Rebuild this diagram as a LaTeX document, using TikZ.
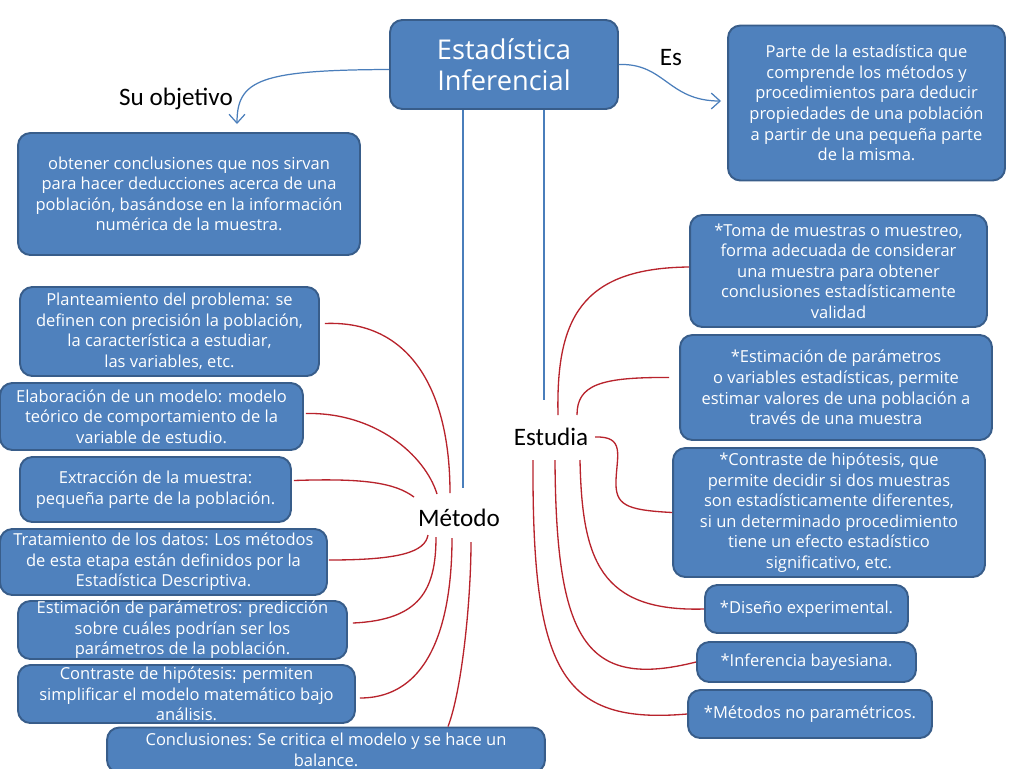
\documentclass[tikz,border=0pt]{standalone}
\usepackage{fontspec}
\setmainfont{Carlito}
\newfontfamily\boxfont{Open Sans}
\usepackage{tikz}
\usetikzlibrary{arrows.meta,calc}
\definecolor{eiFill}{HTML}{4F81BD}
\definecolor{eiEdge}{HTML}{385D8A}
\definecolor{eiLine}{HTML}{4A7EBB}
\definecolor{eiRed}{HTML}{B8232C}
\tikzset{
  % Blue concept box
  ibox/.style={rectangle,rounded corners=7pt,
    draw=eiEdge,line width=1.1pt,fill=eiFill,
    align=center,inner sep=0pt,text=white,
    font=\boxfont\fontsize{9.4}{11.7}\selectfont},
  % Title box
  tbox/.style={ibox,font=\boxfont\fontsize{15.5}{17.5}\selectfont},
  % Link words
  lbl/.style={inner sep=0pt,text=black,
    font=\fontsize{14.3}{16}\selectfont},
  % Arrows and lines
  barr/.style={-{Straight Barb[length=5pt,width=9pt]},line width=0.7pt,color=eiLine},
  bline/.style={line width=0.7pt,color=eiLine},
  rline/.style={line width=0.75pt,color=eiRed},
}
\begin{document}
\begin{tikzpicture}[x=0.02cm,y=-0.02cm]
  \useasboundingbox (0,0) rectangle (1024,768);
  \clip (0,0) rectangle (1024,768);
  \fill[white] (0,0) rectangle (1024,768);

  % top
  \node[tbox,minimum width=4.56cm,minimum height=1.78cm] (ei) at (504,64.5)
    {Estadística\\Inferencial};
  \node[ibox,minimum width=5.54cm,minimum height=3.1cm] (def) at (866.5,103)
    {Parte de la estadística que\\comprende los métodos y\\procedimientos para deducir\\propiedades de una población\\a partir de una pequeña parte\\de la misma.};
  \node[ibox,minimum width=6.84cm,minimum height=2.44cm] (obj) at (189,194)
    {obtener conclusiones que nos sirvan\\para hacer deducciones acerca de una\\población, basándose en la información\\numérica de la muestra.};

  \node[lbl] (objLbl) at (176,99) {Su objetivo};
  \node[lbl] (esLbl) at (671,58) {Es};
  \node[lbl] (metodo) at (459,518) {Método};
  \node[lbl] (estudia) at (551,437) {Estudia};

  % method steps
  \node[ibox,minimum width=5.98cm,minimum height=1.78cm] (m1) at (169.5,331.5)
    {Planteamiento del problema: se\\definen con precisión la población,\\la característica a estudiar,\\las variables, etc.};
  \node[ibox,minimum width=6.06cm,minimum height=1.34cm] (m2) at (151.5,416.5)
    {Elaboración de un modelo: modelo\\teórico de comportamiento de la\\variable de estudio.};
  \node[ibox,minimum width=5.42cm,minimum height=1.3cm] (m3) at (155.5,489.5)
    {Extracción de la muestra:\\pequeña parte de la población.};
  \node[ibox,minimum width=6.54cm,minimum height=1.32cm] (m4) at (163.5,562)
    {Tratamiento de los datos: Los métodos\\de esta etapa están definidos por la\\Estadística Descriptiva.};
  \node[ibox,minimum width=6.58cm,minimum height=1.16cm] (m5) at (182.5,630)
    {Estimación de parámetros: predicción\\sobre cuáles podrían ser los\\parámetros de la población.};
  \node[ibox,minimum width=6.74cm,minimum height=1.16cm] (m6) at (186.5,694)
    {Contraste de hipótesis: permiten\\simplificar el modelo matemático bajo\\análisis.};
  \node[ibox,minimum width=8.76cm,minimum height=0.9cm] (m7) at (326,750)
    {Conclusiones: Se critica el modelo y se hace un\\balance.};

  % study topics
  \node[ibox,minimum width=5.94cm,minimum height=2.24cm] (e1) at (838.5,271)
    {*Toma de muestras o muestreo,\\forma adecuada de considerar\\una muestra para obtener\\conclusiones estadísticamente\\validad};
  \node[ibox,minimum width=6.24cm,minimum height=2.1cm] (e2) at (836,387.5)
    {*Estimación de parámetros\\o variables estadísticas, permite\\estimar valores de una población a\\través de una muestra};
  \node[ibox,minimum width=6.24cm,minimum height=2.58cm] (e3) at (829,512.5)
    {*Contraste de hipótesis, que\\permite decidir si dos muestras\\son estadísticamente diferentes,\\si un determinado procedimiento\\tiene un efecto estadístico\\significativo, etc.};
  \node[ibox,minimum width=4.06cm,minimum height=0.96cm] (e4) at (806.5,609)
    {*Diseño experimental.};
  \node[ibox,minimum width=4.38cm,minimum height=0.8cm] (e5) at (806.5,662)
    {*Inferencia bayesiana.};
  \node[ibox,minimum width=4.88cm,minimum height=0.96cm] (e6) at (810,714)
    {*Métodos no paramétricos.};

  \coordinate (objTip) at (237,124);
  \coordinate (defTip) at (721,101);
  \coordinate (mTop) at (463,488);
  \coordinate (eTop) at (544,400);

  % blue links
  \draw[barr] ($(ei.west)+(0,5)$) .. controls (260,70) and (237,80) .. (objTip);
  \draw[barr] (ei.east) .. controls (665,63) and (668,101) .. (defTip);
  \draw[bline] (ei.south -| mTop) -- (mTop);
  \draw[bline] (ei.south -| eTop) -- (eTop);

  % red links, left
  \draw[rline] ($(m1.east)+(5,-8)$) .. controls (410,320) and (450,390) .. ($(metodo)+(-9,-25)$);
  \draw[rline] ($(m2.east)+(2,-3)$) .. controls (375,412) and (425,455) .. ($(metodo)+(-22,-24)$);
  \draw[rline] ($(m3.east)+(2,-9)$) .. controls (365,478) and (395,483) .. ($(metodo)+(-45,-21)$);
  \draw[rline] ($(m4.east)+(1,-2)$) .. controls (400,560) and (425,552) .. ($(metodo)+(-31,17)$);
  \draw[rline] ($(m5.east)+(5,-7)$) .. controls (420,620) and (436,590) .. ($(metodo)+(-23,19)$);
  \draw[rline] ($(m6.east)+(4,4)$) .. controls (440,698) and (452,600) .. ($(metodo)+(-7,20)$);
  \draw[rline] ($(m7.north)+(122,0)$) .. controls (462,690) and (471,600) .. ($(metodo)+(12,24)$);

  % red links, right
  \draw[rline] ($(e1.west)+(0,-4)$) .. controls (580,268) and (556,320) .. ($(estudia)+(7,-22)$);
  \draw[rline] ($(e2.west)+(-10,-10)$) .. controls (600,377) and (577,385) .. ($(estudia)+(26,-22)$);
  \draw[rline] ($(estudia)+(44,0)$) .. controls (625,436) and (617,455) .. (616,480)
    .. controls (615,505) and (625,510) .. (e3.west);
  \draw[rline] ($(estudia)+(29,23)$) .. controls (582,560) and (600,612) .. (e4.west);
  \draw[rline] ($(estudia)+(4,23)$) .. controls (556,640) and (585,690) .. (e5.west);
  \draw[rline] ($(estudia)+(-18,23)$) .. controls (532,670) and (560,725) .. (e6.west);
\end{tikzpicture}
\end{document}
